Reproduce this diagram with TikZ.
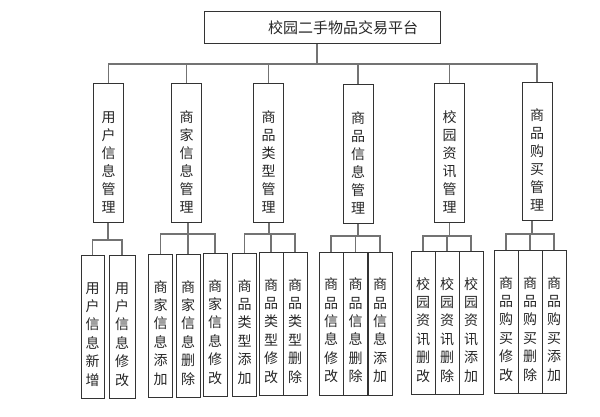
\documentclass[tikz,border=0pt]{standalone}
\usepackage{fontspec}
\newfontfamily\cjk{Noto Sans CJK SC}

\begin{document}
\begin{tikzpicture}[x=1pt,y=-1pt,
	box/.style={draw=black!80,line width=1pt,inner sep=0pt,align=center,text=black!85,font=\cjk\fontsize{14}{18.4}\selectfont},
	top/.style={box,minimum width=236pt,minimum height=32pt,font=\cjk\fontsize{15}{18}\selectfont},
	mod/.style={box,minimum width=30pt,minimum height=138pt,font=\cjk\fontsize{14}{18}\selectfont},
	sub/.style={box,minimum width=24pt,minimum height=143pt},
	link/.style={draw=black!55,line width=1.2pt}]
	\useasboundingbox (0,0) rectangle (600,417);
	%
	\node[top] (T) at (322,28) {\hspace*{42pt}校园二手物品交易平台};
	%
	\node[mod] (U) at (108.5,153) {\rule{0pt}{11pt}\\用\\户\\信\\息\\管\\理};
	\node[mod] (S) at (186.5,153) {\rule{0pt}{11pt}\\商\\家\\信\\息\\管\\理};
	\node[mod] (L) at (268.5,153) {\rule{0pt}{11pt}\\商\\品\\类\\型\\管\\理};
	\node[mod] (P) at (358,154) {\rule{0pt}{11pt}\\商\\品\\信\\息\\管\\理};
	\node[mod] (N) at (449.5,153) {\rule{0pt}{11pt}\\校\\园\\资\\讯\\管\\理};
	\node[mod] (G) at (537,151.5) {\rule{0pt}{11pt}\\商\\品\\购\\买\\管\\理};
	%
	\node[sub,minimum width=23pt] (U1) at (92.5,327) {\rule{0pt}{7pt}\\用\\户\\信\\息\\新\\增};
	\node[sub,minimum width=26pt] (U2) at (122,327) {\rule{0pt}{7pt}\\用\\户\\信\\息\\修\\改};
	\node[sub] (S1) at (160.5,326) {\rule{0pt}{7pt}\\商\\家\\信\\息\\添\\加};
	\node[sub] (S2) at (188,326) {\rule{0pt}{7pt}\\商\\家\\信\\息\\删\\除};
	\node[sub] (S3) at (215,325) {\rule{0pt}{7pt}\\商\\家\\信\\息\\修\\改};
	\node[sub] (L1) at (244.5,325) {\rule{0pt}{7pt}\\商\\品\\类\\型\\添\\加};
	\node[sub] (L2) at (271,324) {\rule{0pt}{7pt}\\商\\品\\类\\型\\修\\改};
	\node[sub] (L3) at (295,324) {\rule{0pt}{7pt}\\商\\品\\类\\型\\删\\除};
	\node[sub] (P1) at (331,323.5) {\rule{0pt}{7pt}\\商\\品\\信\\息\\修\\改};
	\node[sub] (P2) at (355.5,323.5) {\rule{0pt}{7pt}\\商\\品\\信\\息\\删\\除};
	\node[sub] (P3) at (380,323.5) {\rule{0pt}{7pt}\\商\\品\\信\\息\\添\\加};
	\node[sub] (N1) at (423,323) {\rule{0pt}{7pt}\\校\\园\\资\\讯\\删\\改};
	\node[sub] (N2) at (447,323) {\rule{0pt}{7pt}\\校\\园\\资\\讯\\删\\除};
	\node[sub] (N3) at (471,323) {\rule{0pt}{7pt}\\校\\园\\资\\讯\\添\\加};
	\node[sub] (G1) at (506,322) {\rule{0pt}{7pt}\\商\\品\\购\\买\\修\\改};
	\node[sub] (G2) at (530,322) {\rule{0pt}{7pt}\\商\\品\\购\\买\\删\\除};
	\node[sub] (G3) at (554,322) {\rule{0pt}{7pt}\\商\\品\\购\\买\\添\\加};
	%
	\coordinate (bus) at (317,64);
	\coordinate (b1) at (108,240);
	\coordinate (b2) at (188,234);
	\coordinate (b3) at (269,234);
	\coordinate (b4) at (358,236);
	\coordinate (b5) at (449.5,236);
	\coordinate (b6) at (532,234);
	%
	\draw[link] (U.north) |- (bus) -| (G.north);
	\draw[link] (U1.north) |- (b1) -| (U2.north);
	\draw[link] (S1.north) |- (b2) -| (S3.north);
	\draw[link] (L1.north) |- (b3) -| (L3.north);
	\draw[link] (P1.north) |- (b4) -| (P3.north);
	\draw[link] (N1.north) |- (b5) -| (N3.north);
	\draw[link] (G1.north) |- (b6) -| (G3.north);
	%
	\path[link]
	(T.south -| bus) edge (bus)
	(S.north) edge (S.north |- bus)
	(L.north) edge (L.north |- bus)
	(P.north) edge (P.north |- bus)
	(N.north) edge (N.north |- bus)
	(U.south -| b1) edge (b1)
	(S.south -| b2) edge (b2)
	(L.south -| b3) edge (b3)
	(P.south -| b4) edge (b4)
	(N.south -| b5) edge (b5)
	(G.south -| b6) edge (b6)
	(S2.north) edge (S2.north |- b2)
	(L2.north) edge (L2.north |- b3)
	(P2.north) edge (P2.north |- b4)
	(N2.north) edge (N2.north |- b5)
	(G2.north) edge (G2.north |- b6);
\end{tikzpicture}
\end{document}
